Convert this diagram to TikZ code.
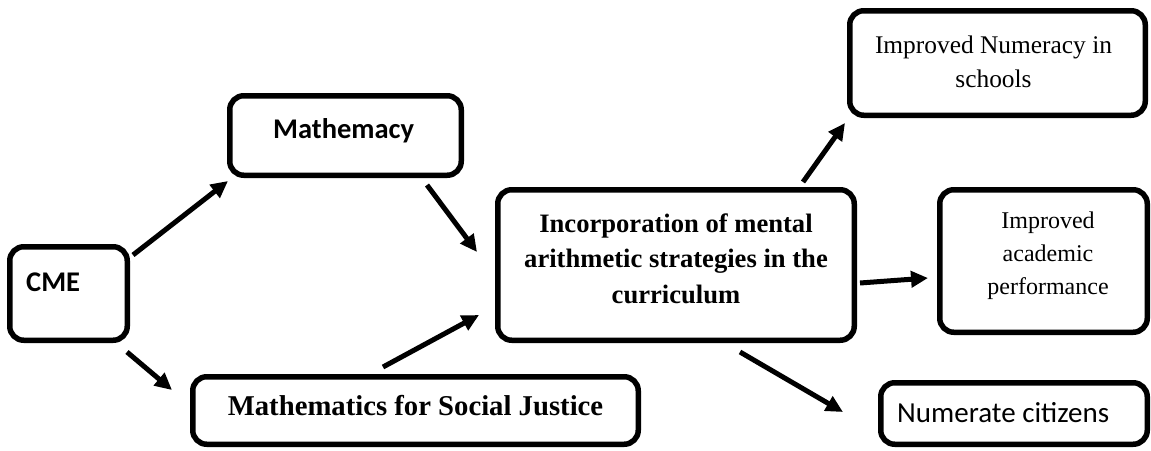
\documentclass[tikz,border=0pt]{standalone}
\usepackage{fontspec}
\newfontfamily\calfont{Carlito}
\newfontfamily\tnrfont{Liberation Serif}
\usetikzlibrary{arrows.meta}
\tikzset{
  box/.style={draw, line width=5.5pt, rounded corners=14pt, inner sep=0pt},
  txt/.style={inner sep=0pt, align=center},
  arr/.style={line width=5pt, -{Triangle[length=17pt, width=16pt]}}
}
\begin{document}
\begin{tikzpicture}[x=1pt, y=-1pt]
\useasboundingbox (0,0) rectangle (1151,450);
% boxes
\node[box, minimum width=117.5pt, minimum height=93.5pt] (cme) at (68.5,293.5) {};
\node[box, minimum width=231.5pt, minimum height=79.5pt] (math) at (345.5,135.5) {};
\node[box, minimum width=445.5pt, minimum height=67.5pt] (msj) at (415.5,410.5) {};
\node[box, minimum width=356.5pt, minimum height=150.5pt] (cent) at (676,265) {};
\node[box, minimum width=295.5pt, minimum height=104.5pt] (nums) at (997.5,63) {};
\node[box, minimum width=207.5pt, minimum height=142.5pt] (acad) at (1043.5,261) {};
\node[box, minimum width=266.5pt, minimum height=61.5pt] (numc) at (1014,413.5) {};
% texts
\node[txt, anchor=base west, font=\calfont\bfseries\fontsize{28.5}{34}\selectfont] (cmet) at (26,291) {CME};
\node[txt, anchor=base west, font=\calfont\bfseries\fontsize{28.5}{34}\selectfont] (matht) at (273,138) {Mathemacy};
\node[txt, anchor=base, font=\tnrfont\bfseries\fontsize{28.7}{34}\selectfont] (msjt) at (415.5,415) {Mathematics for Social Justice};
\node[txt, font=\tnrfont\bfseries\fontsize{26.6}{35.5}\selectfont] (centt) at (676,258.6) {Incorporation of mental\\arithmetic strategies in the\\curriculum};
\node[txt, font=\tnrfont\fontsize{25.4}{34}\selectfont] (numst) at (993.5,61.4) {Improved Numeracy in\\schools};
\node[txt, font=\tnrfont\fontsize{24}{33}\selectfont] (acadt) at (1048,255.4) {Improved\\academic\\performance};
\node[txt, anchor=base west, font=\calfont\fontsize{29}{34}\selectfont] (numct) at (897,422) {Numerate citizens};
% arrow end points
\coordinate (a1s) at (133,255); \coordinate (a1e) at (228,181);
\coordinate (a2s) at (127,352); \coordinate (a2e) at (172,390);
\coordinate (a3s) at (427,185); \coordinate (a3e) at (477,252);
\coordinate (a4s) at (383,367); \coordinate (a4e) at (479,315);
\coordinate (a5s) at (803,182); \coordinate (a5e) at (845,123);
\coordinate (a6s) at (860,283); \coordinate (a6e) at (928,278);
\coordinate (a7s) at (740,352); \coordinate (a7e) at (843,412);
\draw[arr] (a1s) -- (a1e);
\draw[arr] (a2s) -- (a2e);
\draw[arr] (a3s) -- (a3e);
\draw[arr] (a4s) -- (a4e);
\draw[arr] (a5s) -- (a5e);
\draw[arr] (a6s) -- (a6e);
\draw[arr] (a7s) -- (a7e);
\end{tikzpicture}
\end{document}
